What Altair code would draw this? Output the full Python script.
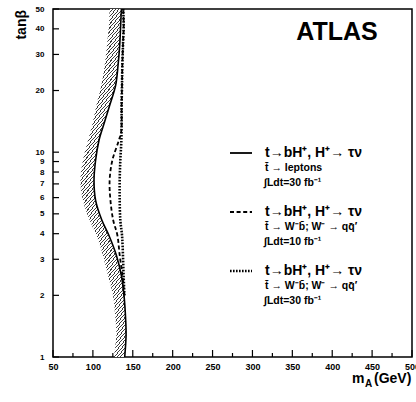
import math
import altair as alt
import pandas as pd

# ---------------- data ----------------
tb_band = [1.0, 1.28, 1.54, 2.0, 2.5, 3.14, 3.93, 4.65, 5.82, 7.29, 9.13, 11.4, 13.8, 16.9, 21.2, 26.5, 33.2, 41.6, 50.0]
band_low = [126.4, 129.4, 128.2, 125.2, 118.9, 112.6, 104.3, 95.9, 87.5, 84.3, 87.5, 93.8, 99.5, 104.3, 110.6, 114.7, 117.6, 120.1, 121.0]
solid_ma = [139.9, 141.6, 141.0, 139.0, 135.7, 129.4, 120.0, 111.3, 103.4, 101.4, 103.4, 107.6, 114.0, 121.0, 128.5, 131.5, 133.6, 134.8, 135.7]

tb_dash = [2.0, 2.5, 3.14, 3.93, 4.65, 5.82, 7.29, 9.13, 11.4, 12.6, 16.9, 21.2, 26.5, 33.2, 41.6, 50.0]
dash_ma = [139.5, 137.0, 133.6, 130.7, 125.5, 122.0, 121.0, 124.4, 132.5, 135.5, 136.0, 136.5, 136.9, 137.7, 138.6, 138.0]

tb_dot = [2.0, 2.5, 3.14, 3.93, 4.65, 5.82, 7.29, 9.13, 11.4, 14.3, 16.9, 21.2, 26.5, 33.2, 41.6, 50.0]
dot_ma = [139.5, 138.5, 137.7, 136.5, 134.4, 133.6, 133.6, 134.4, 135.7, 136.0, 136.0, 136.5, 136.9, 137.7, 138.6, 138.0]

x_major = [50, 100, 150, 200, 250, 300, 350, 400, 450, 500]
x_minor = [75, 125, 175, 225, 275, 325, 375, 425, 475]
y_ticks = [1, 2, 3, 4, 5, 6, 7, 8, 9, 10, 20, 30, 40, 50]

legend_l1 = "t\u2192bH\u207a, H\u207a\u2192 \u03c4\u03bd"
legend_l2 = ["t\u0304 \u2192 leptons", "t\u0304 \u2192 W\u207bb\u0304; W\u207b \u2192 qq\u0304\u2032", "t\u0304 \u2192 W\u207bb\u0304; W\u207b \u2192 qq\u0304\u2032"]
legend_l3 = ["\u222bLdt=30 fb\u207b\u00b9", "\u222bLdt=10 fb\u207b\u00b9", "\u222bLdt=30 fb\u207b\u00b9"]

# ---------------- layout ----------------
PW, PH = 359, 348
FONT = "Liberation Sans"
XMIN, XMAX = 50, 500

xs = alt.Scale(domain=[XMIN, XMAX], nice=False, zero=False)
ys = alt.Scale(type="log", domain=[1, 50], nice=False)
xaxis = alt.Axis(values=x_major, ticks=False, domain=False, grid=False, labelFont=FONT,
                 labelFontWeight="bold", labelFontSize=9, labelColor="black", labelPadding=5,
                 title=None, labelFlush=False, labelOverlap=False)
yaxis = alt.Axis(values=y_ticks, ticks=False, domain=False, grid=False, labelFont=FONT,
                 labelFontWeight="bold", labelFontSize=8, labelColor="black", labelPadding=9,
                 title=None, format="~g", labelOverlap=False)


def X(f):
    return alt.X(f, type="quantitative", scale=xs, axis=xaxis)


def Y(f):
    return alt.Y(f, type="quantitative", scale=ys, axis=yaxis)


# hatch via a striped linear gradient (objectBoundingBox units)
W = (max(solid_ma) - min(band_low)) * PW / (XMAX - XMIN)
H = PH
ratio = math.tan(math.radians(50)) * W / H
s = 1.15
gx2, gy2 = ratio * s, s
len2 = gx2 ** 2 + gy2 ** 2
P = 3.8  # vertical period in px
per = P * gy2 / (len2 * H)
frac = 0.32
stops = []
k = 0
while k * per < 1:
    o = k * per
    for off, col in [(o, "#3a3a3a"), (o + frac * per, "#3a3a3a"), (o + frac * per, "#ffffff"), (o + per, "#ffffff")]:
        stops.append(alt.GradientStop(offset=min(off, 1.0), color=col))
    k += 1
hatch = alt.LinearGradient(gradient="linear", stops=stops, x1=0, y1=0, x2=gx2, y2=gy2)

band_df = pd.DataFrame({"tb": tb_band, "lo": band_low, "hi": solid_ma})
solid_df = pd.DataFrame({"tb": tb_band, "ma": solid_ma})
dash_df = pd.DataFrame({"tb": tb_dash, "ma": dash_ma})
dot_df = pd.DataFrame({"tb": tb_dot, "ma": dot_ma})

DASH = [4, 2.6]
DOT = [1.6, 1.4]

band = alt.Chart(band_df).mark_area(orient="horizontal", fill=hatch, interpolate="catmull-rom").encode(
    x=X("lo"), x2="hi", y=Y("tb"))

solid = alt.Chart(solid_df).mark_line(color="black", strokeWidth=1.6, interpolate="catmull-rom").encode(
    x=X("ma"), y=Y("tb"), order=alt.Order("tb:Q"))

dashed = alt.Chart(dash_df).mark_line(color="black", strokeWidth=1.8, strokeDash=DASH,
                                      interpolate="catmull-rom").encode(
    x=X("ma"), y=Y("tb"), order=alt.Order("tb:Q"))

dotted = alt.Chart(dot_df).mark_line(color="black", strokeWidth=2.6, strokeDash=DOT,
                                     interpolate="catmull-rom").encode(
    x=X("ma"), y=Y("tb"), order=alt.Order("tb:Q"))

xmaj = alt.Chart(pd.DataFrame({"v": x_major})).mark_rule(color="black", strokeWidth=1.2).encode(
    x=X("v"), y=alt.value(PH), y2=alt.value(PH - 7))
xmin_ = alt.Chart(pd.DataFrame({"v": x_minor})).mark_rule(color="black", strokeWidth=1.2).encode(
    x=X("v"), y=alt.value(PH), y2=alt.value(PH - 4))
ytk = alt.Chart(pd.DataFrame({"v": y_ticks})).mark_rule(color="black", strokeWidth=1.2).encode(
    y=Y("v"), x=alt.value(0), x2=alt.value(6))

one = pd.DataFrame({"a": [0]})


def txt(s_, x, y, size, weight="bold", align="left", baseline="middle", angle=None):
    kw = dict(font=FONT, fontSize=size, fontWeight=weight, align=align, baseline=baseline, color="black")
    if angle is not None:
        kw["angle"] = angle
    return alt.Chart(one).mark_text(**kw).encode(x=alt.value(x), y=alt.value(y), text=alt.value(s_))


def sample(y, dash=None, width=1.6):
    kw = dict(color="black", strokeWidth=width)
    if dash is not None:
        kw["strokeDash"] = dash
    return alt.Chart(one).mark_rule(**kw).encode(x=alt.value(177), x2=alt.value(199), y=alt.value(y))


texts = [
    txt("ATLAS", 284, 23, 25, align="center"),
    txt("tan\u03b2", -31, 1, 14, align="right", angle=270),
    txt("m", 299, 374, 14, baseline="alphabetic"),
    txt("A", 312, 378, 10, baseline="alphabetic"),
    txt("(GeV)", 321, 374, 14, baseline="alphabetic"),
]
block_y = [144, 203, 262]
for i, by in enumerate(block_y):
    texts.append(txt(legend_l1, 212, by, 14))
    texts.append(txt(legend_l2[i], 212, by + 15, 10.5))
    texts.append(txt(legend_l3[i], 211, by + 30, 10.5))

samples = [
    sample(144, width=1.8),
    sample(203, dash=DASH, width=1.8),
    sample(262, dash=DOT, width=2.4),
]

chart = alt.layer(band, solid, dashed, dotted, xmaj, xmin_, ytk, *samples, *texts).properties(
    width=PW, height=PH,
    autosize=alt.AutoSizeParams(type="none"),
    padding={"left": 53, "top": 9, "right": 4, "bottom": 45},
    background="white",
).configure_view(stroke="black", strokeWidth=1.5)

chart.save("out.html", embed_options={"renderer": "svg", "actions": False})
